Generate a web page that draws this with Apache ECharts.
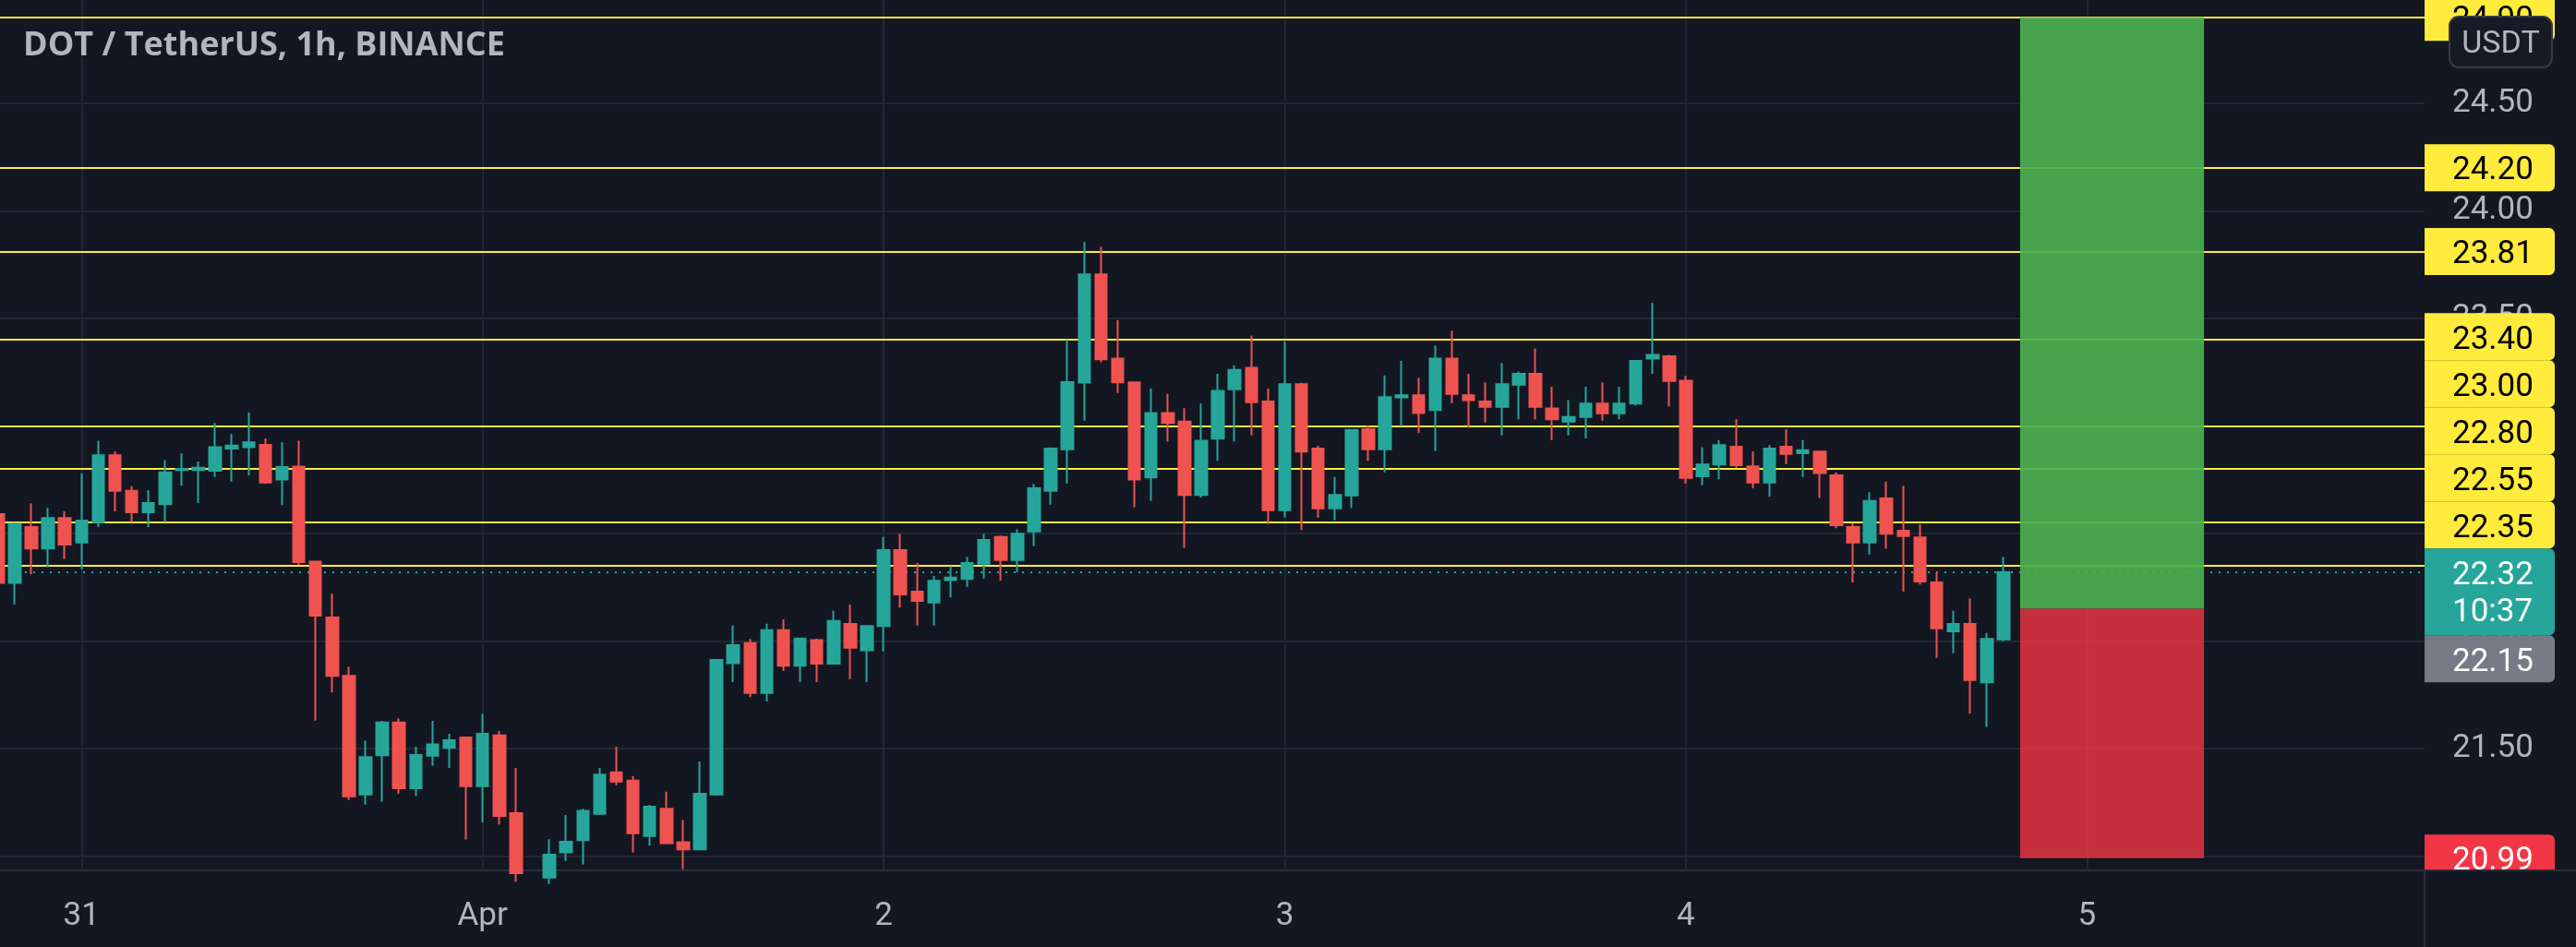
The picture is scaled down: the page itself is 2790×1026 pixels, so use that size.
<!DOCTYPE html>
<html>
<head>
<meta charset="utf-8">
<script src="https://cdn.jsdelivr.net/npm/echarts@6/dist/echarts.min.js"></script>
<style>
html,body{margin:0;padding:0;background:#131722;overflow:hidden;}
#c{width:2790px;height:1026px;}
</style>
</head>
<body>
<div id="c"></div>
<script>
// ---------------- data ----------------
const chartTitle = 'DOT / TetherUS, 1h, BINANCE';
const firstHour = -5; // first candle, hours relative to 31 Mar 00:00
// [open, close, low, high]
const ohlc = [
  [22.590,22.270,22.220,22.620],
  [22.270,22.545,22.170,22.550],
  [22.529,22.430,22.310,22.640],
  [22.430,22.571,22.343,22.619],
  [22.571,22.448,22.380,22.602],
  [22.458,22.559,22.333,22.780],
  [22.552,22.863,22.530,22.931],
  [22.863,22.698,22.602,22.880],
  [22.698,22.598,22.552,22.719],
  [22.598,22.641,22.530,22.700],
  [22.636,22.784,22.552,22.841],
  [22.795,22.800,22.722,22.872],
  [22.795,22.805,22.641,22.834],
  [22.791,22.901,22.762,23.013],
  [22.894,22.908,22.741,22.963],
  [22.901,22.923,22.770,23.063],
  [22.911,22.737,22.730,22.941],
  [22.751,22.808,22.631,22.923],
  [22.811,22.366,22.352,22.931],
  [22.369,22.118,21.629,22.370],
  [22.109,21.837,21.761,22.219],
  [21.837,21.277,21.260,21.880],
  [21.286,21.460,21.239,21.536],
  [21.468,21.621,21.253,21.628],
  [21.621,21.315,21.289,21.640],
  [21.315,21.469,21.280,21.508],
  [21.466,21.519,21.420,21.628],
  [21.503,21.538,21.409,21.568],
  [21.551,21.325,21.077,21.555],
  [21.325,21.568,21.156,21.661],
  [21.561,21.186,21.146,21.581],
  [21.199,20.920,20.880,21.409],
  [20.910,20.880,20.840,20.925],
  [20.900,21.006,20.870,21.078],
  [21.017,21.066,20.977,21.191],
  [21.074,21.210,20.960,21.220],
  [21.196,21.378,21.190,21.409],
  [21.389,21.346,21.329,21.508],
  [21.350,21.106,21.017,21.372],
  [21.093,21.229,21.048,21.238],
  [21.220,21.060,21.055,21.299],
  [21.064,21.031,20.938,21.167],
  [21.031,21.289,21.030,21.439],
  [21.286,21.911,21.280,21.915],
  [21.897,21.980,21.808,22.071],
  [21.990,21.758,21.739,22.009],
  [21.758,22.050,21.718,22.080],
  [22.050,21.885,21.861,22.100],
  [21.885,22.011,21.808,22.015],
  [22.004,21.894,21.808,22.010],
  [21.894,22.093,21.890,22.140],
  [22.079,21.968,21.822,22.169],
  [21.957,22.069,21.808,22.070],
  [22.069,22.422,21.951,22.483],
  [22.422,22.216,22.155,22.498],
  [22.229,22.186,22.071,22.362],
  [22.179,22.280,22.071,22.302],
  [22.283,22.294,22.202,22.348],
  [22.288,22.362,22.252,22.390],
  [22.359,22.469,22.290,22.498],
  [22.483,22.376,22.280,22.490],
  [22.376,22.498,22.319,22.519],
  [22.509,22.710,22.440,22.730],
  [22.698,22.894,22.634,22.900],
  [22.891,23.203,22.731,23.402],
  [23.201,23.704,23.024,23.854],
  [23.704,23.310,23.296,23.833],
  [23.313,23.202,23.153,23.492],
  [23.202,22.751,22.622,23.205],
  [22.760,23.060,22.651,23.173],
  [23.060,23.013,22.927,23.149],
  [23.020,22.679,22.433,23.082],
  [22.679,22.931,22.667,23.103],
  [22.940,23.163,22.837,23.242],
  [23.170,23.260,22.927,23.282],
  [23.270,23.110,22.955,23.420],
  [23.113,22.608,22.543,23.173],
  [22.608,23.194,22.573,23.392],
  [23.194,22.880,22.515,23.200],
  [22.894,22.616,22.573,22.908],
  [22.616,22.679,22.562,22.762],
  [22.676,22.981,22.619,22.985],
  [22.984,22.891,22.837,23.001],
  [22.891,23.134,22.784,23.234],
  [23.132,23.142,22.998,23.302],
  [23.142,23.060,22.966,23.223],
  [23.073,23.313,22.884,23.373],
  [23.313,23.149,23.106,23.442],
  [23.142,23.120,22.991,23.242],
  [23.113,23.088,23.016,23.202],
  [23.088,23.194,22.955,23.292],
  [23.191,23.242,23.031,23.253],
  [23.242,23.088,23.031,23.360],
  [23.081,23.030,22.934,23.182],
  [23.020,23.041,22.955,23.120],
  [23.041,23.103,22.941,23.182],
  [23.103,23.058,23.024,23.202],
  [23.058,23.103,23.031,23.182],
  [23.103,23.302,23.094,23.305],
  [23.313,23.330,23.242,23.571],
  [23.323,23.209,23.091,23.330],
  [23.210,22.758,22.731,23.232],
  [22.765,22.820,22.724,22.901],
  [22.820,22.910,22.752,22.934],
  [22.903,22.817,22.805,23.031],
  [22.812,22.737,22.710,22.881],
  [22.737,22.894,22.670,22.910],
  [22.903,22.870,22.822,22.984],
  [22.873,22.887,22.762,22.934],
  [22.880,22.781,22.665,22.885],
  [22.770,22.538,22.524,22.784],
  [22.529,22.458,22.272,22.548],
  [22.458,22.651,22.402,22.691],
  [22.662,22.498,22.430,22.741],
  [22.512,22.488,22.229,22.722],
  [22.481,22.276,22.262,22.541],
  [22.272,22.058,21.921,22.319],
  [22.044,22.079,21.943,22.140],
  [22.079,21.818,21.661,22.197],
  [21.807,22.009,21.600,22.037],
  [22.007,22.320,22.000,22.390]
];
const dayTicks  = [0, 24, 48, 72, 96, 120];
const dayLabels = ['31', 'Apr', '2', '3', '4', '5'];
const priceTicks = [21.0, 21.5, 22.0, 22.5, 23.0, 23.5, 24.0, 24.5];
const levels = [24.90, 24.20, 23.81, 23.40, 23.00, 22.80, 22.55, 22.35];
const lastPrice = 22.32;
const countdown = '10:37';
const targetPrice = 24.90;
const entryPrice = 22.15;
const stopPrice = 20.99;
const positionStart = 116, positionEnd = 127; // hours
const xRange = [-4.878, 140.2];
const yRange = [20.933, 24.98];

// ---------------- chart ----------------
const BG = '#131722';
const TXT = '#b2b5be';
const FONT = 'Roboto, "Noto Sans", sans-serif';
const chart = echarts.init(document.getElementById('c'), null, {renderer: 'canvas'});

const candleData = ohlc.map((r, i) => [firstHour + i, r[0], r[1], r[2], r[3]]);

const option = {
  backgroundColor: BG,
  animation: false,
  grid: {left: 0, right: 164, top: 0, bottom: 83},
  xAxis: {
    type: 'value', min: xRange[0], max: xRange[1],
    axisLine: {show: true, onZero: false, lineStyle: {color: '#2a2e39', width: 2}},
    axisTick: {show: false},
    splitLine: {show: false},
    axisLabel: {
      customValues: dayTicks,
      formatter: v => dayLabels[dayTicks.indexOf(v)],
      color: TXT, fontSize: 35, fontFamily: FONT, margin: 33
    }
  },
  yAxis: {
    type: 'value', position: 'right', min: yRange[0], max: yRange[1], scale: true,
    axisLine: {show: true, lineStyle: {color: '#2a2e39', width: 2}},
    axisTick: {show: false},
    splitLine: {show: false},
    axisLabel: {
      customValues: priceTicks,
      formatter: v => v.toFixed(2),
      color: TXT, fontSize: 35, fontFamily: FONT, margin: 30, align: 'left',
      padding: [8, 0, 0, 0]
    }
  },
  series: [
    { // grid lines
      type: 'line', data: [], z: 1, silent: true,
      markLine: {
        z: 1, silent: true, symbol: 'none', animation: false, label: {show: false},
        lineStyle: {color: '#232733', width: 2, type: 'solid'},
        data: priceTicks.map(v => ({yAxis: v})).concat(dayTicks.map(v => ({xAxis: v})))
      }
    },
    { // horizontal levels
      type: 'line', data: [], z: 2, silent: true,
      markLine: {
        z: 2, silent: true, symbol: 'none', animation: false, label: {show: false},
        lineStyle: {color: '#ffeb3b', width: 2, type: 'solid'},
        data: levels.map(v => ({yAxis: v}))
      }
    },
    { // last price line
      type: 'line', data: [], z: 3, silent: true,
      markLine: {
        z: 3, silent: true, symbol: 'none', animation: false, label: {show: false},
        lineStyle: {color: '#26a69a', width: 2, type: [2, 7]},
        data: [{yAxis: lastPrice}]
      }
    },
    { // long position box
      type: 'line', data: [], z: 10, silent: true,
      markArea: {
        z: 10, silent: true, animation: false, label: {show: false},
        data: [
          [{xAxis: positionStart, yAxis: targetPrice, itemStyle: {color: 'rgba(76,175,80,0.93)'}},
           {xAxis: positionEnd, yAxis: entryPrice}],
          [{xAxis: positionStart, yAxis: entryPrice, itemStyle: {color: 'rgba(242,54,69,0.8)'}},
           {xAxis: positionEnd, yAxis: stopPrice}]
        ]
      }
    },
    {
      type: 'candlestick', z: 6,
      data: candleData,
      barWidth: 13,
      itemStyle: {
        color: '#26a69a', color0: '#ef5350',
        borderColor: '#26a69a', borderColor0: '#ef5350', borderWidth: 2
      }
    }
  ]
};
chart.setOption(option);

// ---------------- price-scale tags ----------------
function buildGraphics() {
  const toY = v => chart.convertToPixel({gridIndex: 0}, [0, v])[1];
  const axisX = chart.convertToPixel({gridIndex: 0}, [xRange[1], 0])[0];
  const plotBottom = chart.convertToPixel({gridIndex: 0}, [0, yRange[0]])[1];
  const H = 51, LINE = 40, W = 141, TXT_DY = 4;
  const tags = levels.map(v => ({v, h: H, fill: '#ffeb3b', color: '#000000', lines: [v.toFixed(2)]}));
  tags.push({v: entryPrice, h: H, fill: '#787b86', color: '#ffffff', lines: [entryPrice.toFixed(2)]});
  tags.push({v: stopPrice, h: H, fill: '#f23645', color: '#ffffff', lines: [stopPrice.toFixed(2)]});
  tags.forEach(t => { t.top = toY(t.v) - H / 2; });
  const price = {v: lastPrice, h: H + LINE + 3, fill: '#26a69a', color: '#ffffff',
                 lines: [lastPrice.toFixed(2), countdown]};
  price.top = toY(lastPrice) - H / 2;

  const above = tags.filter(t => t.v > lastPrice).sort((a, b) => a.v - b.v);
  let limit = price.top;
  above.forEach(t => { if (t.top + t.h > limit) t.top = limit - t.h; limit = t.top; });
  const below = tags.filter(t => t.v < lastPrice).sort((a, b) => b.v - a.v);
  limit = price.top + price.h;
  below.forEach(t => { if (t.top < limit) t.top = limit; limit = t.top + t.h; });

  const all = tags.concat([price]);
  const els = [];
  all.forEach(t => {
    els.push({type: 'rect', z: 100, silent: true,
      shape: {x: axisX, y: t.top, width: W, height: t.h, r: [0, 6, 6, 0]},
      style: {fill: t.fill}});
    t.lines.forEach((s, i) => {
      els.push({type: 'text', z: 101, silent: true,
        x: axisX + 30, y: t.top + H / 2 + i * LINE + TXT_DY,
        style: {text: s, fill: t.color, font: '35px ' + FONT,
                textAlign: 'left', align: 'left', textVerticalAlign: 'middle', verticalAlign: 'middle'}});
    });
  });
  // time-axis corner (hides tag overflow below the plot)
  els.push({type: 'rect', z: 110, silent: true,
    shape: {x: axisX + 1, y: plotBottom + 1, width: 2790 - axisX, height: 1026 - plotBottom},
    style: {fill: BG}});
  els.push({type: 'line', z: 111, silent: true,
    shape: {x1: axisX, y1: plotBottom, x2: axisX, y2: 1026},
    style: {stroke: '#2a2e39', lineWidth: 2}});
  els.push({type: 'line', z: 111, silent: true,
    shape: {x1: axisX, y1: plotBottom, x2: 2790, y2: plotBottom},
    style: {stroke: '#2a2e39', lineWidth: 2}});
  // currency badge
  els.push({type: 'rect', z: 120, silent: true,
    shape: {x: axisX + 27, y: 18, width: 111, height: 55, r: 10},
    style: {fill: '#161a25', stroke: '#363a45', lineWidth: 2}});
  els.push({type: 'text', z: 121, silent: true,
    x: axisX + 27 + 55.5, y: 48,
    style: {text: 'USDT', fill: TXT, font: '34px ' + FONT,
            textAlign: 'center', align: 'center', textVerticalAlign: 'middle', verticalAlign: 'middle'}});
  // title
  els.push({type: 'text', z: 120, silent: true,
    x: 25, y: 50,
    style: {text: chartTitle, fill: TXT, font: 'bold 36px "Open Sans", ' + FONT,
            textAlign: 'left', align: 'left', textVerticalAlign: 'middle', verticalAlign: 'middle'}});
  chart.setOption({graphic: {elements: els}});
}
buildGraphics();
</script>
</body>
</html>
